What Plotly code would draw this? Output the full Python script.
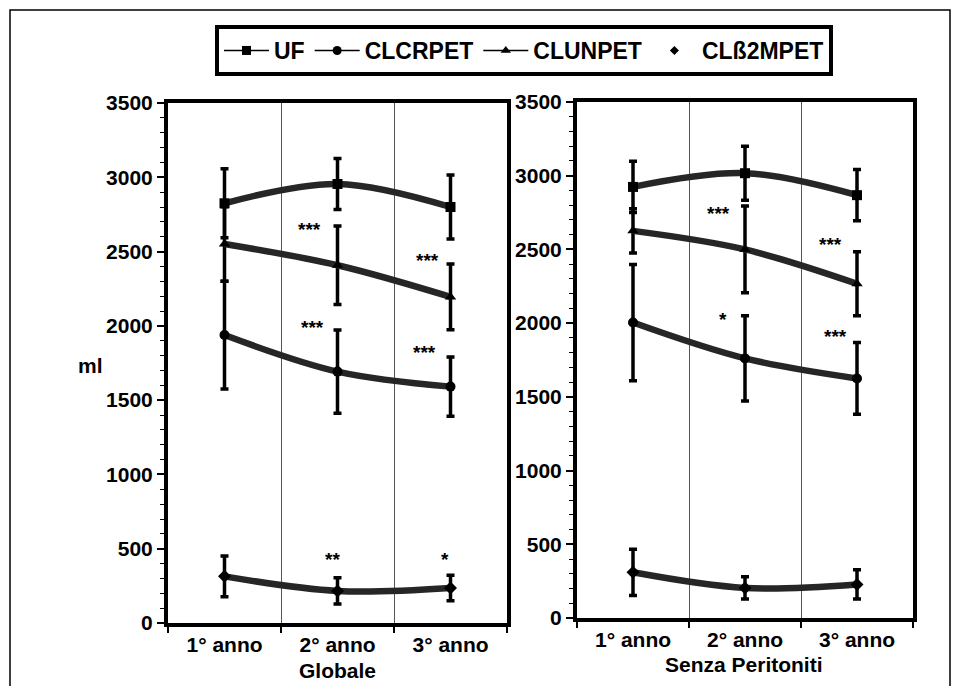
import plotly.graph_objects as go

categories = ["1° anno", "2° anno", "3° anno"]
series_names = ["UF", "CLCRPET", "CLUNPET", "CLß2MPET"]
symbols = ["square", "circle", "triangle-up", "diamond"]

# Globale panel (means and SD, ml)
glob_uf = [2825, 2955, 2800]
glob_uf_sd = [232, 172, 215]
glob_clcr = [1938, 1692, 1591]
glob_clcr_sd = [363, 280, 200]
glob_clun = [2551, 2408, 2195]
glob_clun_sd = [250, 264, 222]
glob_b2m = [314, 216, 236]
glob_b2m_sd = [137, 88, 86]

# Senza Peritoniti panel
senza_uf = [2924, 3017, 2868]
senza_uf_sd = [174, 183, 174]
senza_clcr = [2004, 1761, 1625]
senza_clcr_sd = [394, 289, 243]
senza_clun = [2626, 2500, 2267]
senza_clun_sd = [150, 294, 217]
senza_b2m = [310, 204, 228]
senza_b2m_sd = [157, 75, 99]

# significance labels: (category, value, text, xshift)
glob_sig = [("2° anno", 2679, "***", -28), ("2° anno", 2021, "***", -25),
            ("3° anno", 2472, "***", -23), ("3° anno", 1854, "***", -26),
            ("2° anno", 458, "**", -5), ("3° anno", 458, "*", -6)]
senza_sig = [("2° anno", 2778, "***", -27), ("2° anno", 2062, "*", -22),
             ("3° anno", 2570, "***", -27), ("3° anno", 1946, "***", -22)]

W, H = 961, 686
FONT = "Liberation Sans, Arial, sans-serif"
LINE_C = "#262626"

fig = go.Figure()

panels = [
    ("x", "y", [glob_uf, glob_clcr, glob_clun, glob_b2m],
     [glob_uf_sd, glob_clcr_sd, glob_clun_sd, glob_b2m_sd]),
    ("x2", "y2", [senza_uf, senza_clcr, senza_clun, senza_b2m],
     [senza_uf_sd, senza_clcr_sd, senza_clun_sd, senza_b2m_sd]),
]
for xa, ya, vals, sds in panels:
    for name, sym, v, sd in zip(series_names, symbols, vals, sds):
        fig.add_trace(go.Scatter(
            x=categories, y=v, xaxis=xa, yaxis=ya, name=name, showlegend=False,
            mode="lines+markers",
            line=dict(color=LINE_C, width=6.5, shape="spline", smoothing=1),
            marker=dict(symbol=sym, size=10, color="black"),
            error_y=dict(type="data", array=sd, visible=True, color="black",
                         thickness=3.5, width=4),
        ))

# legend entries
for i, (name, sym) in enumerate(zip(series_names, symbols)):
    mode = "lines+markers" if i < 3 else "markers"
    fig.add_trace(go.Scatter(
        x=[None], y=[None], name=name, mode=mode,
        line=dict(color="black", width=1.5),
        marker=dict(symbol=sym, size=9 if i < 3 else 7, color="black"),
        showlegend=True,
    ))

SIGF = dict(family=FONT, size=19, color="black", weight="bold")
ann = []
for cat, val, txt, xs in glob_sig:
    ann.append(dict(x=cat, y=val, xref="x", yref="y", text=txt, showarrow=False,
                    xshift=xs, yshift=-5, font=SIGF))
for cat, val, txt, xs in senza_sig:
    ann.append(dict(x=cat, y=val, xref="x2", yref="y2", text=txt, showarrow=False,
                    xshift=xs, yshift=-5, font=SIGF))
LBLF = dict(family=FONT, size=21, color="black", weight="bold")
ann.append(dict(x=337 / W, y=1 - 670 / H, xref="paper", yref="paper", text="Globale",
                xanchor="center", yanchor="middle", showarrow=False, font=LBLF))
ann.append(dict(x=744 / W, y=1 - 664 / H, xref="paper", yref="paper", text="Senza Peritoniti",
                xanchor="center", yanchor="middle", showarrow=False, font=LBLF))
ann.append(dict(x=90 / W, y=1 - 365 / H, xref="paper", yref="paper", text="ml",
                xanchor="center", yanchor="middle", showarrow=False, font=LBLF))

xcommon = dict(type="category", range=[-0.5, 2.5], tickson="boundaries",
               showgrid=True, gridcolor="#555", gridwidth=1,
               showline=True, linecolor="black", linewidth=4, mirror=True,
               ticks="outside", ticklen=6, tickwidth=1.5, tickcolor="black",
               tickfont=dict(family=FONT, size=21, color="black", weight="bold"),
               zeroline=False, fixedrange=True, automargin=False)
ycommon = dict(range=[0, 3500], dtick=500, showgrid=False, zeroline=False,
               showline=True, linecolor="black", linewidth=4, mirror=True,
               ticks="outside", ticklen=7, tickwidth=1.5, tickcolor="black",
               minor=dict(dtick=100, ticks="outside", ticklen=4, tickwidth=1, tickcolor="black"),
               tickfont=dict(family=FONT, size=21, color="black", weight="bold"),
               automargin=False)

fig.update_layout(
    width=W, height=H, margin=dict(l=0, r=0, t=0, b=0, pad=0, autoexpand=False),
    paper_bgcolor="white", plot_bgcolor="white",
    font=dict(family=FONT, color="black"),
    xaxis=dict(domain=[168 / W, 507 / W], anchor="y", **xcommon),
    xaxis2=dict(domain=[577 / W, 913 / W], anchor="y2", **xcommon),
    yaxis=dict(domain=[1 - 623 / H, 1 - 103 / H], anchor="x", **ycommon),
    yaxis2=dict(domain=[1 - 618 / H, 1 - 102 / H], anchor="x2", **ycommon),
    showlegend=True,
    legend=dict(orientation="h", x=215 / W, y=1 - 25 / H, xanchor="left", yanchor="top",
                bordercolor="black", borderwidth=4, bgcolor="white",
                font=dict(family=FONT, size=23, color="black", weight="bold"),
                itemwidth=45, tracegroupgap=0),
    annotations=ann,
    shapes=[dict(type="rect", xref="paper", yref="paper", x0=10 / W, x1=950 / W,
                 y0=-0.05, y1=1 - 10 / H, line=dict(color="black", width=1.5))],
)

fig.write_html("out.html")
